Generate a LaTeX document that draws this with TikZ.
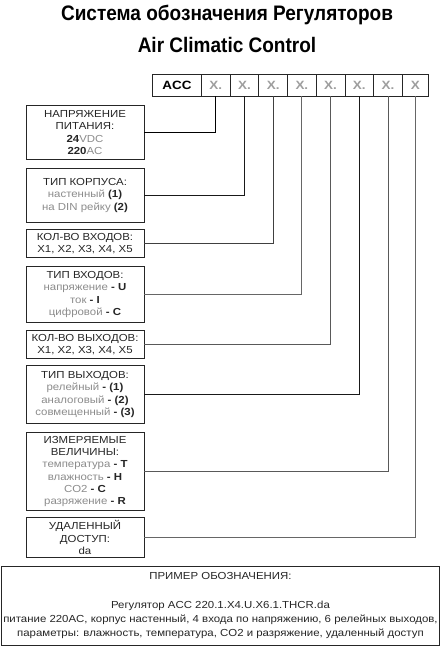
\documentclass[tikz,border=0pt]{standalone}
\usepackage{fontspec}
\setmainfont{Liberation Sans}[FakeStretch=1.12]
\newfontfamily\titlefont{Liberation Sans}[FakeStretch=0.905]
\newcommand\gtxt[1]{\textcolor{black!45}{#1}}
\newcommand\btxt[1]{\textbf{#1}}
\tikzset{
  cell/.style={draw=black!85, line width=0.8pt, minimum height=22pt, inner sep=0pt, anchor=west,
    font=\bfseries\fontsize{12}{12}\selectfont},
  xcell/.style={cell, minimum width=28.7pt, text=black!38},
  box/.style={draw=black!85, line width=0.9pt, minimum width=118pt, inner sep=1pt, align=center,
    anchor=north, font=\fontsize{10.2}{12.3}\selectfont, text=black!85},
  lnk/.style={line width=0.8pt},
  ttl/.style={font=\titlefont\bfseries\fontsize{21}{21}\selectfont, inner sep=0pt, anchor=base},
}
\begin{document}
\begin{tikzpicture}[x=1pt,y=-1pt]
\useasboundingbox[fill=white] (0,0) rectangle (440,650);
\node[ttl] (t1) at (227,20.5) {Система обозначения Регуляторов};
\node[ttl] (t2) at (227,53) {Air Climatic Control};
% code cells
\node[cell, minimum width=49pt] (acc) at (152,85) {ACC};
\node[xcell] (c1) at (201,85) {X.};
\node[xcell] (c2) at (229.7,85) {X.};
\node[xcell] (c3) at (258.4,85) {X.};
\node[xcell] (c4) at (287.1,85) {X.};
\node[xcell] (c5) at (315.8,85) {X.};
\node[xcell] (c6) at (344.5,85) {X.};
\node[xcell] (c7) at (373.2,85) {X.};
\node[xcell, minimum width=26pt] (c8) at (401.9,85) {X};
% boxes
\node[box, minimum height=54pt] (b1) at (85,105) {НАПРЯЖЕНИЕ\\ПИТАНИЯ:\\\btxt{24}\gtxt{VDC}\\\btxt{220}\gtxt{AC}};
\node[box, minimum height=54pt] (b2) at (85,168) {ТИП КОРПУСА:\\\gtxt{настенный} \btxt{(1)}\\\gtxt{на DIN рейку} \btxt{(2)}};
\node[box, minimum height=28pt] (b3) at (85,229) {КОЛ-ВО ВХОДОВ:\\X1, X2, X3, X4, X5};
\node[box, minimum height=56pt] (b4) at (85,266) {ТИП ВХОДОВ:\\\gtxt{напряжение} \btxt{- U}\\\gtxt{ток} \btxt{- I}\\\gtxt{цифровой} \btxt{- C}};
\node[box, minimum height=28pt] (b5) at (85,330) {КОЛ-ВО ВЫХОДОВ:\\X1, X2, X3, X4, X5};
\node[box, minimum height=58pt] (b6) at (85,365) {ТИП ВЫХОДОВ:\\\gtxt{релейный} \btxt{- (1)}\\\gtxt{аналоговый} \btxt{- (2)}\\\gtxt{совмещенный} \btxt{- (3)}};
\node[box, minimum height=78pt] (b7) at (85,432) {ИЗМЕРЯЕМЫЕ\\ВЕЛИЧИНЫ:\\\gtxt{температура} \btxt{- T}\\\gtxt{влажность} \btxt{- H}\\\gtxt{CO2} \btxt{- C}\\\gtxt{разряжение} \btxt{- R}};
\node[box, minimum height=40pt] (b8) at (85,517) {УДАЛЕННЫЙ\\ДОСТУП:\\da};
% connectors
\draw[lnk, black] (b1.east) -| (c1.south);
\draw[lnk, black!90] (b2.east) -| (c2.south);
\draw[lnk, black!75] (b3.east) -| (c3.south);
\draw[lnk, black!60] (b4.east) -| (c4.south);
\draw[lnk, black!65] (b5.east) -| (c5.south);
\draw[lnk, black!90] (b6.east) -| (c6.south);
\draw[lnk, black!65] (b7.east) -| (c7.south);
\draw[lnk, black!60] (b8.east) -| (c8.south);
% example
\node[draw=black!85, line width=0.9pt, minimum width=438pt, minimum height=79pt, anchor=north west,
  inner sep=0pt, align=center, text=black!85, font=\fontsize{10.2}{14}\selectfont] (ex) at (1,566)
  {ПРИМЕР ОБОЗНАЧЕНИЯ:\\[15pt]Регулятор ACC 220.1.X4.U.X6.1.THCR.da\\
   питание 220AC, корпус настенный, 4 входа по напряжению, 6 релейных выходов,\\
   параметры: влажность, температура, CO2 и разряжение, удаленный доступ};
\end{tikzpicture}
\end{document}
